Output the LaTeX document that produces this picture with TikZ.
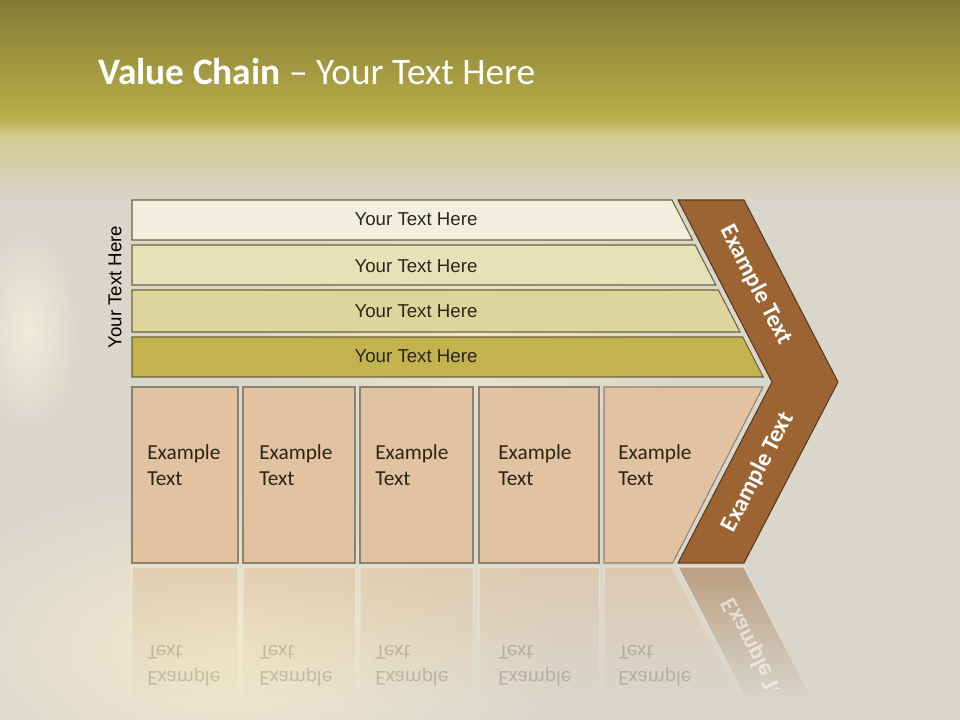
\documentclass[tikz,border=0pt]{standalone}
\usepackage{fontspec}
\setmainfont{Carlito}
\newfontfamily\barfont{Liberation Sans}
\usetikzlibrary{fadings}
\definecolor{olivea}{HTML}{847C35}
\definecolor{oliveb}{HTML}{BAAD4A}
\definecolor{palea}{HTML}{D3CB95}
\definecolor{bgbase}{HTML}{D9D6CC}
\definecolor{creama}{HTML}{F1EBCD}
\definecolor{barone}{HTML}{F2EFDE}
\definecolor{bartwo}{HTML}{E6E1B9}
\definecolor{barthree}{HTML}{DDD59B}
\definecolor{barfour}{HTML}{C3B34F}
\definecolor{barline}{HTML}{6E6238}
\definecolor{boxfill}{HTML}{E2C2A1}
\definecolor{boxline}{HTML}{8C8272}
\definecolor{chevfill}{HTML}{9B6432}
\definecolor{chevline}{HTML}{5C3B1A}
\definecolor{darktext}{HTML}{2B2616}
\definecolor{refline}{HTML}{ECE8DA}
\tikzfading[name=reflfade, top color=transparent!40, bottom color=transparent!100]
\tikzset{
  barshape/.style={draw=barline, line width=0.8pt},
  bartext/.style={font=\barfont\fontsize{14}{16}\selectfont, text=darktext, inner sep=0pt},
  boxshape/.style={fill=boxfill, draw=boxline, line width=0.8pt},
  boxtext/.style={font=\fontsize{16}{19}\selectfont, text=darktext, anchor=base west, inner sep=0pt},
  chevtext/.style={font=\bfseries\fontsize{18}{20}\selectfont, text=white, inner sep=0pt},
  reflshape/.style={fill=boxfill, draw=refline, line width=0.8pt, path fading=reflfade},
  refltext/.style={font=\fontsize{16}{19}\selectfont, text=darktext, text opacity=0.2, anchor=base west, inner sep=0pt},
}
\begin{document}
\begin{tikzpicture}[x=0.75pt,y=-0.75pt]
\useasboundingbox (0,0) rectangle (960,720);
% background
\fill[bgbase] (0,0) rectangle (960,720);
\shade[inner color=creama, outer color=bgbase] (230,650) ellipse (330 and 170);
\shade[inner color=creama!80!bgbase, outer color=bgbase] (470,330) ellipse (220 and 140);
\shade[inner color=white!30!creama!80!bgbase, outer color=bgbase] (28,330) ellipse (50 and 100);
\shade[top color=olivea, bottom color=oliveb] (0,0) rectangle (960,118);
\shade[top color=oliveb, bottom color=palea] (0,118) rectangle (960,138);
\shade[top color=palea, bottom color=bgbase] (0,138) rectangle (960,205);
% title
\node[anchor=base west, inner sep=0pt, text=white, font=\fontsize{28}{34}\selectfont] (title) at (98,85) {\textbf{Value Chain} – Your Text Here};
% bars
\path[barshape, fill=barone] (132,200) -- (672,200) -- (692.6,240) -- (132,240) -- cycle;
\path[barshape, fill=bartwo] (132,245) -- (695.2,245) -- (715.8,285) -- (132,285) -- cycle;
\path[barshape, fill=barthree] (132,290) -- (718.4,290) -- (740,332) -- (132,332) -- cycle;
\path[barshape, fill=barfour] (132,337) -- (742.7,337) -- (763.3,377) -- (132,377) -- cycle;
\node[bartext] (t1) at (416,219) {Your Text Here};
\node[bartext] (t2) at (416,266) {Your Text Here};
\node[bartext] (t3) at (416,311.5) {Your Text Here};
\node[bartext] (t4) at (416,356) {Your Text Here};
\node[bartext, text=black, rotate=90] (side) at (115,287) {Your Text Here};
% chevron
\path[fill=chevfill, draw=chevline, line width=0.8pt] (678,200) -- (744,200) -- (838,382) -- (744,563) -- (678,563) -- (772,382) -- cycle;
\node[chevtext, rotate=-62.7] (c1) at (756,285) {Example Text};
\node[chevtext, rotate=62.7] (c2) at (758,472) {Example Text};
% boxes
\path[boxshape] (132,387) rectangle (238,563);
\path[boxshape] (243,387) rectangle (355,563);
\path[boxshape] (360,387) rectangle (473,563);
\path[boxshape] (479,387) rectangle (599,563);
\path[boxshape] (604,387) -- (763,387) -- (672.6,563) -- (604,563) -- cycle;
\node[boxtext] (b1a) at (147,459) {Example};
\node[boxtext] (b1b) at (147,485) {Text};
\node[boxtext] (b2a) at (259,459) {Example};
\node[boxtext] (b2b) at (259,485) {Text};
\node[boxtext] (b3a) at (375,459) {Example};
\node[boxtext] (b3b) at (375,485) {Text};
\node[boxtext] (b4a) at (498,459) {Example};
\node[boxtext] (b4b) at (498,485) {Text};
\node[boxtext] (b5a) at (618,459) {Example};
\node[boxtext] (b5b) at (618,485) {Text};
% reflections
\path[reflshape] (132,567) rectangle (238,700);
\path[reflshape] (243,567) rectangle (355,700);
\path[reflshape] (360,567) rectangle (473,700);
\path[reflshape] (479,567) rectangle (599,700);
\path[reflshape] (604,567) -- (672.6,567) -- (741,700) -- (604,700) -- cycle;
\path[fill=chevfill!80!bgbase, draw=white, line width=0.8pt, path fading=reflfade] (678,567) -- (744,567) -- (812.6,700) -- (746.6,700) -- cycle;
\begin{scope}
\clip (0,565) rectangle (960,688);
\begin{scope}[shift={(0,1130)}, yscale=-1, transform shape]
\node[refltext] (r1a) at (147,459) {Example};
\node[refltext] (r1b) at (147,485) {Text};
\node[refltext] (r2a) at (259,459) {Example};
\node[refltext] (r2b) at (259,485) {Text};
\node[refltext] (r3a) at (375,459) {Example};
\node[refltext] (r3b) at (375,485) {Text};
\node[refltext] (r4a) at (498,459) {Example};
\node[refltext] (r4b) at (498,485) {Text};
\node[refltext] (r5a) at (618,459) {Example};
\node[refltext] (r5b) at (618,485) {Text};
\node[chevtext, rotate=62.7, text opacity=0.55] (rc2) at (758,472) {Example Text};
\end{scope}
\end{scope}
\end{tikzpicture}
\end{document}
